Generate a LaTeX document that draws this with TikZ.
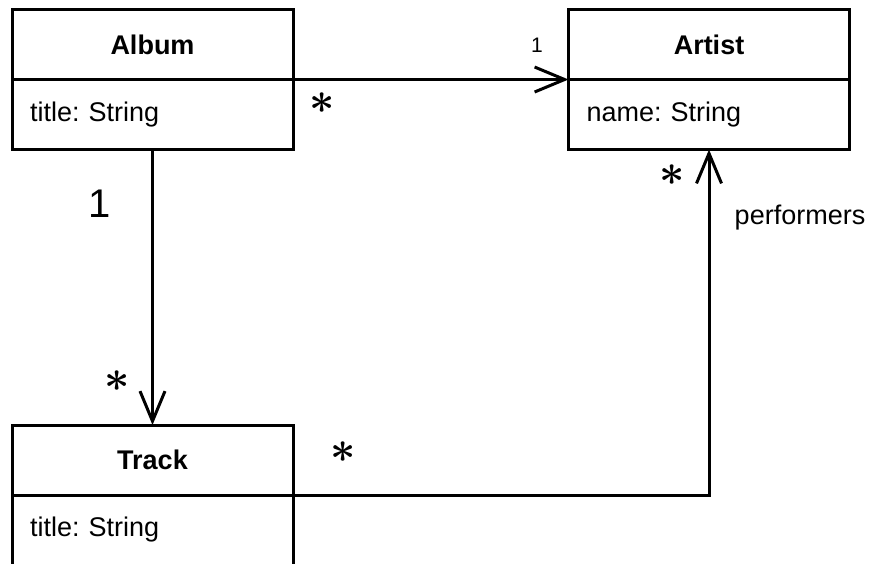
\documentclass[tikz,border=0pt]{standalone}
\usepackage{fontspec}
\setmainfont{Liberation Sans}
\frenchspacing
\usepackage{tikz}
\usetikzlibrary{positioning,arrows.meta}

\begin{document}
\begin{tikzpicture}[x=1pt,y=-1pt,line width=3pt,
    head/.style={draw,minimum width=281pt,minimum height=70pt,inner sep=0pt,outer sep=0pt,font=\fontsize{27}{32}\selectfont\bfseries},
    attr/.style={draw,text width=245pt,minimum height=70pt,inner xsep=18pt,inner ysep=0pt,outer sep=0pt,align=left,font=\fontsize{27}{32}\selectfont},
    assoc/.style={-{Straight Barb[length=30pt,width=25pt]}},
    lbl/.style={font=\fontsize{27}{32}\selectfont}]
    \useasboundingbox (0,0) rectangle (869,563);
    \node[head] (album) at (152.5,44.5) {Album};
    \node[attr,below=0pt of album] (albumattr) {title: String};
    \node[head] (artist) at (709,44.5) {Artist};
    \node[attr,below=0pt of artist] (artistattr) {name: String};
    \node[head] (track) at (152.5,460) {Track};
    \node[attr,below=0pt of track] (trackattr) {title: String};
    \draw[assoc] (album.south east) -- (artist.south west);
    \draw[assoc] (albumattr.south) -- (track.north);
    \draw[assoc] (track.south east) -| (artistattr.south);
    \node[font=\fontsize{21}{22}\selectfont] (one-artist) at (537,45) {1};
    \node (many-album) at (322,103) {\scalebox{4.4}{\boldmath$\ast$}};
    \node[font=\fontsize{40}{44}\selectfont] (one-album) at (100,204) {1};
    \node (many-track) at (117,381) {\scalebox{4.4}{\boldmath$\ast$}};
    \node (many-perf) at (343,452) {\scalebox{4.4}{\boldmath$\ast$}};
    \node (many-artist) at (672,175) {\scalebox{4.4}{\boldmath$\ast$}};
    \node[lbl] (performers) at (800,218) {performers};
\end{tikzpicture}
\end{document}
